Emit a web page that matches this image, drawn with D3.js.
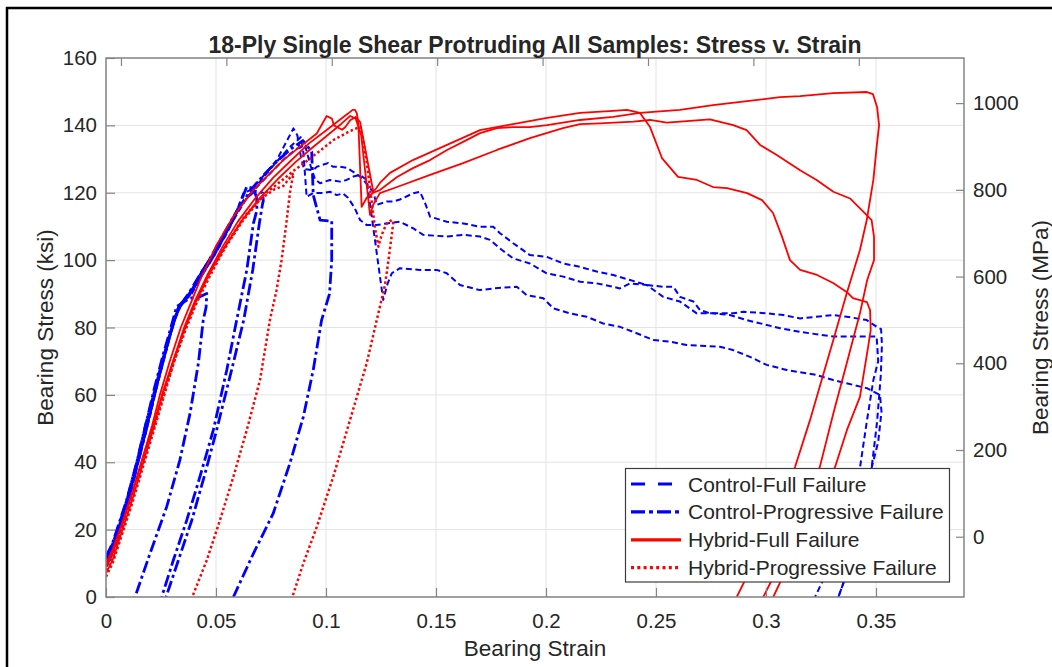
<!DOCTYPE html>
<html><head><meta charset="utf-8">
<script src="https://cdn.jsdelivr.net/npm/d3@7"></script>
<style>
body{margin:0;background:#fff}
svg{display:block}
text{font-family:"Liberation Sans",Arial,Helvetica,sans-serif;fill:#262626}
</style>
</head><body><svg id="c" width="1052" height="667"></svg>
<script>
// ---------- tick data ----------
const xTicks=[0,0.05,0.1,0.15,0.2,0.25,0.3,0.35];
const xTickLabels=["0","0.05","0.1","0.15","0.2","0.25","0.3","0.35"];
const yTicks=[0,20,40,60,80,100,120,140,160];
const yRightTicks=[0,200,400,600,800,1000];
const topTicks=[0.05,0.1,0.15,0.2,0.25,0.3,0.35,0.4];
const xDomain=[0,0.39];
const yDomain=[0,160];
const yRightDomain=[-139,1104];
const xTopDomain=[0.0429,0.4499];

// ---------- series data: [strain, stress ksi] ----------
const controlFull1=[[0,11],[0.003,15],[0.006,21],[0.01,29],[0.0145,40],[0.0185,50],[0.0225,61],[0.0265,71],[0.0305,81],[0.033,86],[0.038,89.5],[0.0427,94.5],[0.0503,102.5],[0.0579,112],[0.0624,119.8],[0.0655,120.8],[0.07,123.8],[0.0776,129.7],[0.0852,139.1],[0.087,137],[0.0885,131],[0.09,127],[0.0941,126.7],[0.0958,127.7],[0.098,128.2],[0.1009,128.8],[0.1032,127.7],[0.1064,127.7],[0.1094,127.4],[0.1124,126.2],[0.1155,124.8],[0.117,123.8],[0.1205,121],[0.1215,120.3],[0.123,116.4],[0.1276,117.4],[0.1306,117.4],[0.1336,118],[0.1395,119.8],[0.1427,120.3],[0.145,117],[0.1473,112.9],[0.1549,111.4],[0.1624,110.9],[0.17,109.9],[0.176,109.9],[0.1791,108],[0.1851,105],[0.1927,101.5],[0.2003,101],[0.2079,99],[0.2155,98],[0.223,96.6],[0.2306,95.6],[0.2382,94.1],[0.2458,92.6],[0.2533,92.1],[0.2579,92.1],[0.2609,89.1],[0.267,87.7],[0.27,85.2],[0.2745,84.2],[0.2851,84.2],[0.2897,84.7],[0.3003,84.2],[0.3079,83.7],[0.3155,82.7],[0.3306,83.7],[0.3367,83.2],[0.3458,82.2],[0.3503,80.2],[0.3523,79.5],[0.3527,75],[0.3522,66],[0.3505,52],[0.348,38.3],[0.3445,25],[0.3395,12],[0.3329,0]];
const controlFull2=[[0,12],[0.003,16],[0.006,22],[0.01,30],[0.0143,40],[0.018,50],[0.022,60],[0.026,70],[0.0295,79],[0.0325,85.5],[0.037,89],[0.042,94],[0.048,100],[0.055,108],[0.061,116],[0.066,120],[0.072,125],[0.078,129.5],[0.0835,133.5],[0.0885,136.5],[0.0897,132],[0.0905,125],[0.0912,118.8],[0.0941,119.9],[0.0986,119.9],[0.1018,120.3],[0.1048,119.3],[0.1077,119.8],[0.11,118.5],[0.113,115.5],[0.1155,111.9],[0.1185,110.4],[0.123,110.4],[0.1276,110.9],[0.1336,111.4],[0.1397,109.4],[0.1442,107.5],[0.1549,107],[0.1624,107.5],[0.17,107],[0.1745,106],[0.18,103],[0.1851,100.5],[0.1927,99],[0.2003,96.1],[0.2079,95.1],[0.2155,93.6],[0.223,93.1],[0.2306,92.1],[0.2336,91.6],[0.2382,93.1],[0.2458,92.6],[0.2533,89.1],[0.2609,87.7],[0.2685,84.2],[0.276,84.2],[0.2836,83.7],[0.2912,82.2],[0.3064,79.8],[0.3155,78.7],[0.3306,77.3],[0.3458,77.3],[0.3503,77.3],[0.351,70],[0.3488,64.4],[0.3458,52],[0.3427,38.3],[0.338,25],[0.331,12],[0.3223,0]];
const controlFull3=[[0,10],[0.003,14],[0.006,20],[0.01,28],[0.015,41],[0.019,51],[0.023,62],[0.027,72],[0.031,82],[0.0335,86.5],[0.039,90],[0.0445,96.5],[0.051,104],[0.0585,112.5],[0.064,118.5],[0.069,122],[0.075,126],[0.081,130],[0.0865,133],[0.0905,134],[0.093,128],[0.095,124],[0.0973,122.8],[0.1018,123.8],[0.1064,123.3],[0.1094,123.8],[0.1124,124.8],[0.1155,125.3],[0.1185,123.8],[0.121,112],[0.1235,100],[0.126,88.2],[0.128,93],[0.1299,96.1],[0.1336,97.6],[0.1427,97.1],[0.1503,97.1],[0.1549,96.1],[0.1609,92.6],[0.17,91.1],[0.176,91.6],[0.1867,92.1],[0.1912,89.6],[0.1988,88.7],[0.2033,85.7],[0.2109,84.2],[0.2185,83.2],[0.226,81.2],[0.2336,80.2],[0.2412,78.3],[0.2488,76.3],[0.2564,75.8],[0.264,74.8],[0.2791,74.3],[0.285,73.3],[0.2927,71.3],[0.3003,68.9],[0.3094,67.4],[0.323,65.9],[0.3305,64.4],[0.3458,62],[0.3518,60],[0.3525,55],[0.351,46],[0.348,38.3],[0.3445,25],[0.3395,12],[0.3329,0]];

const controlProg1=[[0,11],[0.003,15],[0.006,21],[0.01,30],[0.014,40],[0.018,51],[0.022,62],[0.026,72],[0.0295,80],[0.0321,86.2],[0.0382,88.7],[0.0427,89.1],[0.0458,90.1],[0.0455,86],[0.0442,82.2],[0.042,69.4],[0.0382,54.5],[0.0336,40.7],[0.0276,26.8],[0.02,12.9],[0.0132,0]];
const controlProg2=[[0,9],[0.003,13],[0.006,19],[0.01,28],[0.0145,40],[0.019,52],[0.023,63],[0.027,73],[0.031,82],[0.034,87],[0.039,91],[0.044,97],[0.05,103],[0.056,110],[0.0605,116],[0.064,121.8],[0.067,121.3],[0.0685,118.5],[0.0686,114.8],[0.067,110.9],[0.064,97.1],[0.0594,82.2],[0.0549,67.4],[0.0488,49.6],[0.0427,35.7],[0.0367,22.8],[0.0306,10.9],[0.0253,0]];
const controlProg3=[[0,10],[0.003,14],[0.007,22],[0.011,31],[0.015,41],[0.0195,53],[0.0235,64],[0.0275,74],[0.031,82],[0.0335,86],[0.04,92],[0.046,99],[0.052,106],[0.058,113],[0.063,118],[0.0675,120.5],[0.0712,120],[0.0715,117.5],[0.0712,116.9],[0.0697,110.9],[0.0667,97.1],[0.0626,82.2],[0.0571,67.4],[0.0503,49.6],[0.045,36.6],[0.039,22.8],[0.0329,10.9],[0.0273,0]];
const controlProg4=[[0,12],[0.003,16],[0.006,22],[0.0095,29],[0.014,40],[0.018,51],[0.022,61],[0.026,71],[0.03,80],[0.033,86],[0.0375,90],[0.043,96],[0.049,102],[0.055,109],[0.061,116],[0.066,121],[0.072,125.5],[0.078,129.5],[0.084,133],[0.0895,135.5],[0.0935,132.2],[0.0942,119.3],[0.0973,111.9],[0.1026,111.6],[0.1026,100],[0.1016,90],[0.098,82.2],[0.0942,67.4],[0.0897,53.5],[0.0836,39.7],[0.076,24.8],[0.067,12.9],[0.0579,0]];

const hybridFull1=[[0,7],[0.003,11],[0.007,19],[0.012,29],[0.017,40],[0.0215,50],[0.0255,60],[0.0305,70],[0.0355,80],[0.0405,88],[0.046,95.5],[0.053,104],[0.06,111.5],[0.068,118.5],[0.076,124.5],[0.084,129.5],[0.092,134.5],[0.1,138.5],[0.106,141.5],[0.11,143.5],[0.1121,144.6],[0.1132,144.6],[0.114,143.6],[0.1147,140.6],[0.1162,115.8],[0.1185,118.5],[0.1215,120],[0.1245,120.8],[0.1323,124.7],[0.1395,127.3],[0.1473,129.7],[0.155,132.7],[0.1623,135.1],[0.17,137.7],[0.1777,139.2],[0.185,139.5],[0.1927,139.5],[0.2005,140.1],[0.2155,141.6],[0.2305,142.5],[0.2427,143.7],[0.2609,144.6],[0.2759,146],[0.2914,147.2],[0.3064,148.4],[0.3155,148.7],[0.3305,149.6],[0.3459,149.9],[0.3486,149.3],[0.3505,145.4],[0.3514,140.1],[0.3503,133.7],[0.3488,123.8],[0.3458,111.9],[0.3427,103],[0.3367,90.2],[0.3306,76.3],[0.3253,64.4],[0.32,52.5],[0.3132,38.6],[0.3018,19.9],[0.2867,0]];
const hybridFull2=[[0,10],[0.003,14],[0.008,23],[0.0125,32],[0.017,42],[0.022,52],[0.026,61],[0.031,71],[0.036,80],[0.041,88],[0.047,96],[0.054,104],[0.062,112],[0.07,118.5],[0.078,124],[0.086,129],[0.094,133.5],[0.1015,137.5],[0.107,140.5],[0.111,142.8],[0.1135,142],[0.116,137],[0.12,113.4],[0.1215,116.5],[0.1245,119.9],[0.1323,121.7],[0.1473,125.3],[0.1623,128.8],[0.1777,132.7],[0.1927,136.2],[0.2077,139.2],[0.2155,140.4],[0.2245,140.6],[0.2397,141.1],[0.2473,141.6],[0.2549,140.8],[0.2745,141.8],[0.2851,140.1],[0.2912,138.6],[0.2973,134.2],[0.3049,131.2],[0.3155,126.7],[0.323,123.8],[0.3306,120.3],[0.3382,118.3],[0.3442,114.4],[0.348,111.9],[0.3491,106.9],[0.3491,100],[0.346,94.1],[0.3427,84.2],[0.3367,69.4],[0.3306,54.5],[0.3245,38.7],[0.314,19.9],[0.2988,0]];
const hybridFull3=[[0,9],[0.003,13],[0.007,21],[0.012,31],[0.0165,41],[0.021,51],[0.0245,60],[0.029,70],[0.034,80],[0.039,88],[0.0427,94],[0.0503,104.5],[0.0579,113],[0.067,120.8],[0.073,124.8],[0.0806,129.7],[0.0882,133.7],[0.0958,137.6],[0.1003,142.8],[0.1027,142],[0.1036,140],[0.1073,138.7],[0.1088,139.5],[0.111,141.5],[0.1135,142.5],[0.1155,141],[0.1215,120.3],[0.123,121.5],[0.1245,122.9],[0.1291,125.9],[0.1395,129.7],[0.155,134.2],[0.17,138.6],[0.185,140.4],[0.2005,142.2],[0.2155,143.7],[0.2305,144.3],[0.2368,144.6],[0.2427,143.7],[0.2473,139.5],[0.2527,130.3],[0.26,124.7],[0.2686,123.8],[0.2759,121.7],[0.2823,121.4],[0.2914,119.9],[0.2982,117.8],[0.3032,114],[0.3073,106.9],[0.3109,100],[0.3155,97.1],[0.3232,95.6],[0.3305,93.2],[0.3368,90.5],[0.3395,88.7],[0.3459,87.5],[0.3473,85.2],[0.3476,79.3],[0.3464,74.2],[0.3427,59.4],[0.3368,49.6],[0.3314,38.6],[0.3177,19.9],[0.3033,0]];

const hybridProg1=[[0,8],[0.003,12],[0.007,20],[0.012,30],[0.017,41],[0.022,51],[0.0265,61],[0.031,70],[0.036,79],[0.041,87],[0.047,95],[0.054,103.5],[0.062,111.5],[0.07,118],[0.0765,121],[0.0806,122],[0.0852,125.8],[0.0836,120],[0.0818,110],[0.0798,100],[0.0775,91],[0.0745,82.2],[0.07,64.4],[0.064,49.6],[0.0579,35.7],[0.0518,22.8],[0.0458,10.9],[0.0392,0]];
const hybridProg2=[[0,6],[0.003,10],[0.007,18],[0.012,28],[0.017,39],[0.022,50],[0.0265,60],[0.031,70],[0.036,80],[0.041,88],[0.047,96],[0.055,105],[0.063,113],[0.072,119.5],[0.0806,124],[0.0852,126.5],[0.0958,131.7],[0.1033,135.6],[0.11,138],[0.1155,139.6],[0.117,135.1],[0.1185,129.2],[0.12,121.3],[0.1223,109.4],[0.1238,104],[0.1253,107.5],[0.1276,110.9],[0.1299,111.9],[0.1306,111.4],[0.1299,107.5],[0.1283,99.5],[0.1268,92.6],[0.1245,86.2],[0.1185,69.4],[0.1109,52.5],[0.1033,35.7],[0.0958,20.8],[0.0897,10],[0.0847,0]];

const controlFull=[controlFull1,controlFull2,controlFull3];
const controlProg=[controlProg1,controlProg2,controlProg3,controlProg4];
const hybridFull=[hybridFull1,hybridFull2,hybridFull3];
const hybridProg=[hybridProg1,hybridProg2];
const legendLabels=["Control-Full Failure","Control-Progressive Failure","Hybrid-Full Failure","Hybrid-Progressive Failure"];

// ---------- styles ----------
const styles=[
  {color:"#0000ff",width:2,dash:"6,3.5",legendDash:"14,13"},
  {color:"#0000ff",width:2.8,dash:"12,3.5,3,3.5",legendDash:"14,4,4,4"},
  {color:"#ff0000",width:1.8,dash:null,legendDash:null},
  {color:"#ff0000",width:2.5,dash:"2.5,2.5",legendDash:"3,3.3"}
];
const groups=[controlFull,controlProg,hybridFull,hybridProg];

const svg=d3.select("#c");
const L=106,R=964,T=58,B=597;
svg.append("rect").attr("width",1052).attr("height",667).attr("fill","#fff");

const x=d3.scaleLinear().domain(xDomain).range([L,R]);
const y=d3.scaleLinear().domain(yDomain).range([B,T]);
const yR=d3.scaleLinear().domain(yRightDomain).range([B,T]);
const xTop=d3.scaleLinear().domain(xTopDomain).range([L,R]);

// grid
const grid=svg.append("g").attr("stroke","#e3e3e3").attr("stroke-width",1);
grid.selectAll("line.v").data(xTicks).join("line").attr("x1",d=>x(d)).attr("x2",d=>x(d)).attr("y1",T).attr("y2",B);
grid.selectAll("line.h").data(yTicks).join("line").attr("x1",L).attr("x2",R).attr("y1",d=>y(d)).attr("y2",d=>y(d));

// clip
svg.append("clipPath").attr("id","clip").append("rect").attr("x",L).attr("y",T).attr("width",R-L).attr("height",B-T);

const line=d3.line().x(d=>x(d[0])).y(d=>y(d[1]));
const plot=svg.append("g").attr("clip-path","url(#clip)");
groups.forEach((g,i)=>{
  const s=styles[i];
  plot.append("g").selectAll("path").data(g).join("path")
    .attr("d",line).attr("fill","none").attr("stroke",s.color)
    .attr("stroke-width",s.width).attr("stroke-linejoin","round")
    .attr("stroke-dasharray",s.dash);
});

// axes
const axColor="#858585";
function styleAxis(g){
  g.select(".domain").remove();
  g.selectAll(".tick line").attr("stroke",axColor).attr("stroke-width",1.2);
  g.selectAll(".tick text").attr("fill","#262626").style("font-size","20.5px").attr("font-family",null);
}
svg.append("g").attr("transform",`translate(0,${B})`)
  .call(d3.axisBottom(x).tickValues(xTicks).tickFormat((d,i)=>xTickLabels[i]).tickSizeInner(-9).tickSizeOuter(0).tickPadding(16))
  .call(styleAxis);
svg.append("g").attr("transform",`translate(${L},0)`)
  .call(d3.axisLeft(y).tickValues(yTicks).tickFormat(d3.format("d")).tickSizeInner(-9).tickSizeOuter(0).tickPadding(9))
  .call(styleAxis);
svg.append("g").attr("transform",`translate(${R},0)`)
  .call(d3.axisRight(yR).tickValues(yRightTicks).tickFormat(d3.format("d")).tickSizeInner(-8).tickSizeOuter(0).tickPadding(9))
  .call(styleAxis);
svg.append("g").attr("transform",`translate(0,${T})`)
  .call(d3.axisTop(xTop).tickValues(topTicks).tickFormat("").tickSizeInner(-8).tickSizeOuter(0))
  .call(styleAxis);

// box
svg.append("rect").attr("x",L).attr("y",T).attr("width",R-L).attr("height",B-T)
  .attr("fill","none").attr("stroke",axColor).attr("stroke-width",1.5);

// labels
svg.append("text").attr("x",535).attr("y",53).attr("text-anchor","middle")
  .style("font-size","23px").style("font-weight","bold").attr("fill","#000")
  .text("18-Ply Single Shear Protruding All Samples: Stress v. Strain");
svg.append("text").attr("x",535).attr("y",656).attr("text-anchor","middle")
  .style("font-size","22.5px").text("Bearing Strain");
svg.append("text").attr("transform",`translate(53,${(T+B)/2}) rotate(-90)`).attr("text-anchor","middle")
  .style("font-size","22.5px").text("Bearing Stress (ksi)");
svg.append("text").attr("transform",`translate(1048,${(T+B)/2}) rotate(-90)`).attr("text-anchor","middle")
  .style("font-size","22.5px").text("Bearing Stress (MPa)");

// legend
const lg=svg.append("g");
lg.append("rect").attr("x",625.5).attr("y",468.5).attr("width",324).attr("height",113.5)
  .attr("fill","#fff").attr("stroke","#3c3c3c").attr("stroke-width",1.2);
legendLabels.forEach((lab,i)=>{
  const ry=484+i*27.9, s=styles[i];
  lg.append("line").attr("x1",631).attr("x2",681).attr("y1",ry).attr("y2",ry)
    .attr("stroke",s.color).attr("stroke-width",3.2).attr("stroke-dasharray",s.legendDash);
  lg.append("text").attr("x",688).attr("y",ry+7.5).style("font-size","21px").text(lab);
});

// figure frame
svg.append("line").attr("x1",7).attr("x2",7).attr("y1",7).attr("y2",667).attr("stroke","#000").attr("stroke-width",2.5);
svg.append("line").attr("x1",6).attr("x2",1052).attr("y1",8).attr("y2",8).attr("stroke","#000").attr("stroke-width",2.5);
</script>
</body></html>
